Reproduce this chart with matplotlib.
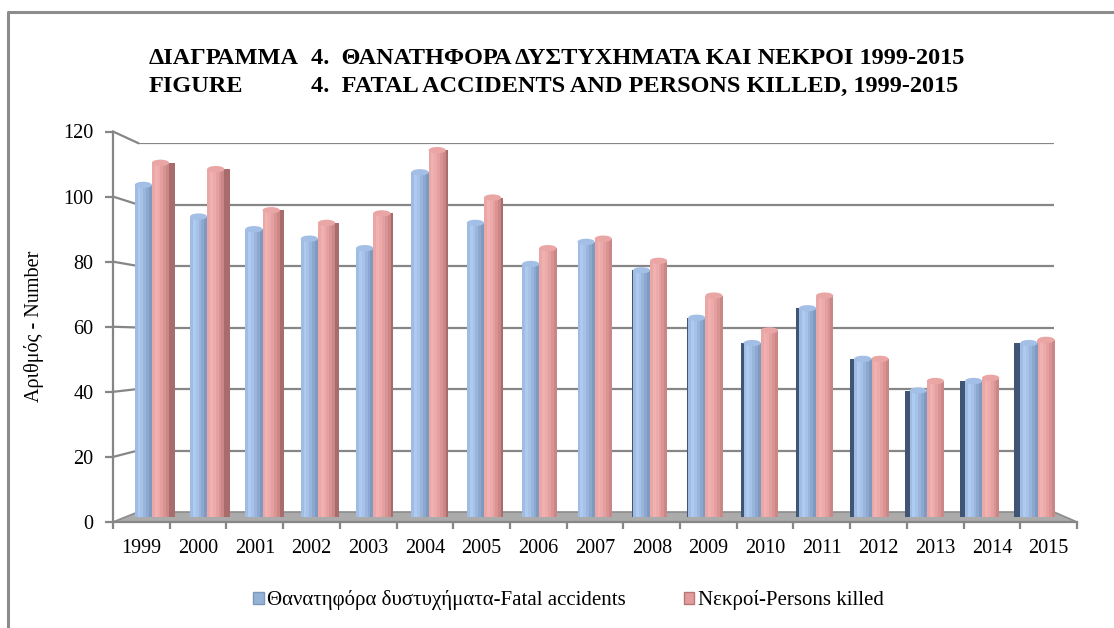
import numpy as np
import matplotlib.pyplot as plt
from matplotlib.patches import Polygon, Ellipse, Patch
from matplotlib.lines import Line2D

years = [str(y) for y in range(1999, 2016)]
fatal_accidents = [106, 96, 92, 89, 86, 110, 94, 81, 88, 79, 64, 56, 67, 51, 41, 44, 56]
persons_killed = [113, 111, 98, 94, 97, 117, 102, 86, 89, 82, 71, 60, 71, 51, 44, 45, 57]
y_ticks = [0, 20, 40, 60, 80, 100, 120]

title_gr = ('ΔΙΑΓΡΑΜΜΑ', '4.  ΘΑΝΑΤΗΦΟΡΑ ΔΥΣΤΥΧΗΜΑΤΑ ΚΑΙ ΝΕΚΡΟΙ 1999-2015')
title_en = ('FIGURE', '4.  FATAL ACCIDENTS AND PERSONS KILLED, 1999-2015')
y_label = 'Αριθμός - Number'
series_names = ['Θανατηφόρα δυστυχήματα-Fatal accidents', 'Νεκροί-Persons killed']

serif = ['Liberation Serif', 'DejaVu Serif']
plt.rcParams['font.family'] = serif

W, H = 1114, 628
fig = plt.figure(figsize=(W / 100, H / 100), dpi=100)


def box(left, right, bottom, top):
    # pixel box (origin top-left) -> figure fractions
    return [left / W, 1 - bottom / H, (right - left) / W, (bottom - top) / H]


# three planes of the fake 3d chart: back wall, bar plane, front axis
ax_back = fig.add_axes(box(138, 1054, 512, 143))
ax_mid = fig.add_axes(box(125, 1066, 517, 137.5))
ax_front = fig.add_axes(box(113, 1077, 522, 131.5))
n = len(years)
for z, a in enumerate((ax_back, ax_mid, ax_front)):
    a.set_xlim(-0.5, n - 0.5)
    a.set_ylim(0, 120)
    a.set_zorder(z)
    a.patch.set_visible(False)
ax_back.axis('off')
ax_mid.axis('off')

grid_c = '#868686'


def front_to_back(x, y):
    p = ax_front.transData.transform((x, y))
    return ax_back.transData.inverted().transform(p)


# floor
fl, fr = front_to_back(-0.5, 0), front_to_back(n - 0.5, 0)
floor = Polygon([fl, fr, (n - 0.5, 0), (-0.5, 0)], closed=True,
                facecolor='#ABABAB', edgecolor='#8C8C8C', lw=1.2, clip_on=False)
ax_back.add_patch(floor)

# back wall gridlines and side wall lines
ax_back.hlines(y_ticks[1:], -0.5, n - 0.5, color=grid_c, lw=1.6)
for v in y_ticks[1:]:
    p = front_to_back(-0.5, v)
    ax_back.plot([p[0], -0.5], [p[1], v], color=grid_c, lw=1.6, clip_on=False)

# bars
x = np.arange(n)
bw = 0.31
xb = x - 0.17
xp = x + 0.14
blue_shades = ['#A0BCE3', '#AECAF0', '#A6C2E9', '#99B5DC', '#8CA8CF', '#7E9AC1']
pink_shades = ['#EBA6A6', '#F2B1B1', '#EDAAAA', '#E49F9F', '#D99393', '#CB8686']
fa = np.array(fatal_accidents, dtype=float)
pk = np.array(persons_killed, dtype=float)
cap = 1.0
side = 0.11 * (8 - x) / 8

# blue left side face (right half of the chart)
sb = np.where(side < 0, -side, 0)
ax_mid.bar(xb - bw / 2 - sb, fa - cap, width=sb, align='edge', color='#3F5573', lw=0)
# pink right side face (left half of the chart)
sp = np.where(side > 0, side, 0)
ax_mid.bar(xp + bw / 2, pk - cap, width=sp, align='edge', color='#A96C6C', lw=0)

k = len(blue_shades)
for j in range(k):
    off = -bw / 2 + j * bw / k
    ax_mid.bar(xb + off, fa - cap, width=bw / k + 0.002, align='edge', color=blue_shades[j], lw=0)
    ax_mid.bar(xp + off, pk - cap, width=bw / k + 0.002, align='edge', color=pink_shades[j], lw=0)
for i in range(n):
    ax_mid.add_patch(Ellipse((xb[i], fa[i] - cap), bw, 2 * cap, color='#A3BFE6', lw=0))
    ax_mid.add_patch(Ellipse((xp[i], pk[i] - cap), bw, 2 * cap, color='#EAA5A5', lw=0))

# front axes
for s in ('top', 'right'):
    ax_front.spines[s].set_visible(False)
for s in ('left', 'bottom'):
    ax_front.spines[s].set_color(grid_c)
    ax_front.spines[s].set_linewidth(1.6)
ax_front.set_yticks(y_ticks)
ax_front.set_yticklabels([str(v) for v in y_ticks], fontsize=14.5)
bounds = np.arange(-0.5, n)
ax_front.set_xticks(bounds, labels=[''] * len(bounds))
ax_front.set_xticks(x, labels=years, minor=True, fontsize=14.5)
ax_front.tick_params(axis='y', length=6, width=1.6, color=grid_c, pad=8)
ax_front.tick_params(axis='x', which='major', length=5, width=1.6, color=grid_c)
ax_front.tick_params(axis='x', which='minor', length=0, pad=12)
ax_front.set_ylabel(y_label, fontsize=14.5, labelpad=14)

# titles
tkw = dict(fontsize=17.5, fontweight='bold', va='center', family=serif)
fig.text(149 / W, 1 - 58 / H, title_gr[0], **tkw)
fig.text(311 / W, 1 - 58 / H, title_gr[1], **tkw)
fig.text(149 / W, 1 - 86 / H, title_en[0], **tkw)
fig.text(311 / W, 1 - 86 / H, title_en[1], **tkw)

# legend
handles = [Patch(facecolor='#95B3D7', edgecolor='#7F98B8'),
           Patch(facecolor='#E39C9C', edgecolor='#B87777')]
fig.legend(handles, series_names, loc='center left', bbox_to_anchor=(243 / W, 1 - 600 / H),
           ncol=2, frameon=False, prop={'family': serif, 'size': 15}, borderpad=0,
           handlelength=0.5, handleheight=0.5, handletextpad=0.15, columnspacing=2.8)

# chart area border (cut off on the right and bottom)
fig.add_artist(Line2D([8 / W, 8 / W, 1], [0, 1 - 12 / H, 1 - 12 / H],
                      transform=fig.transFigure, color='#8C8C8C', lw=2.2))

fig.savefig('out.png', dpi=100, facecolor='white')
